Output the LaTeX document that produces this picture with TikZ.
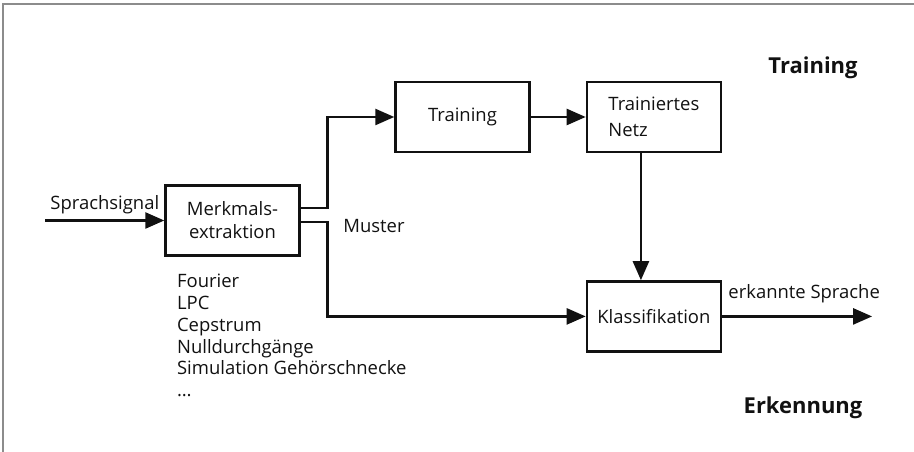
\documentclass[tikz,border=0pt]{standalone}
\usepackage{fontspec}
\setmainfont{Open Sans}
\usetikzlibrary{positioning, arrows.meta, calc}
\definecolor{rahmen}{HTML}{8C8C8C}
\definecolor{linie}{HTML}{111111}

\begin{document}
\begin{tikzpicture}[
    x=0.02cm, y=-0.02cm,
    block/.style={rectangle, draw=linie, line width=1.4pt, text=linie,
                  minimum width=2.68cm, minimum height=1.4cm,
                  align=center, font=\fontsize{10.5}{13}\selectfont},
    flow/.style={-{Triangle[length=0.38cm, width=0.32cm]}, line width=1.4pt, linie},
    note/.style={text=linie, font=\fontsize{10.5}{12.4}\selectfont, inner sep=1pt},
    phase/.style={text=linie, font=\fontsize{12.5}{15}\selectfont\bfseries}
  ]
    \useasboundingbox (0,0) rectangle (914,452);
    \draw[rahmen, line width=0.6pt] (3,452) -- (3,4) -- (914,4);

    \node[block] (merk) at (232.5,220.5) {Merkmals-\\extraktion};
    \node[block] (train) at (462.5,117) {Training};
    \node[block, align=left, right=1.1cm of train] (netz) {Trainiertes\\[2pt]Netz};
    \node[block, below=2.54cm of netz] (klass) {Klassifikation};

    \coordinate[left=2.38cm of merk.west] (ein);
    \coordinate[right=3cm of klass.east] (aus);

    \draw[flow] (ein) -- node[note, above=2pt]{Sprachsignal} (merk.west);
    \draw[flow] ([yshift=0.25cm]merk.east) -- ++(0.54cm,0) |- (train.west);
    \draw[flow] ([yshift=-0.03cm]merk.east) -- ++(0.54cm,0) |- (klass.west);
    \draw[flow] (train) -- (netz);
    \draw[flow] ([xshift=-0.26cm]netz.south) -- ([xshift=-0.26cm]netz.south |- klass.north);
    \draw[flow] (klass) -- node[note, above=6pt, xshift=4pt]{erkannte Sprache} (aus);

    \node[note] (muster) at (374,226) {Muster};
    \node[note, anchor=north west, align=left] (verf) at (175,272)
      {Fourier\\LPC\\Cepstrum\\Nulldurchgänge\\Simulation Gehörschnecke\\\dots};

    \node[phase] (ptrain) at (813,68) {Training};
    \node[phase] (perk) at (803,408) {Erkennung};
  \end{tikzpicture}
\end{document}
